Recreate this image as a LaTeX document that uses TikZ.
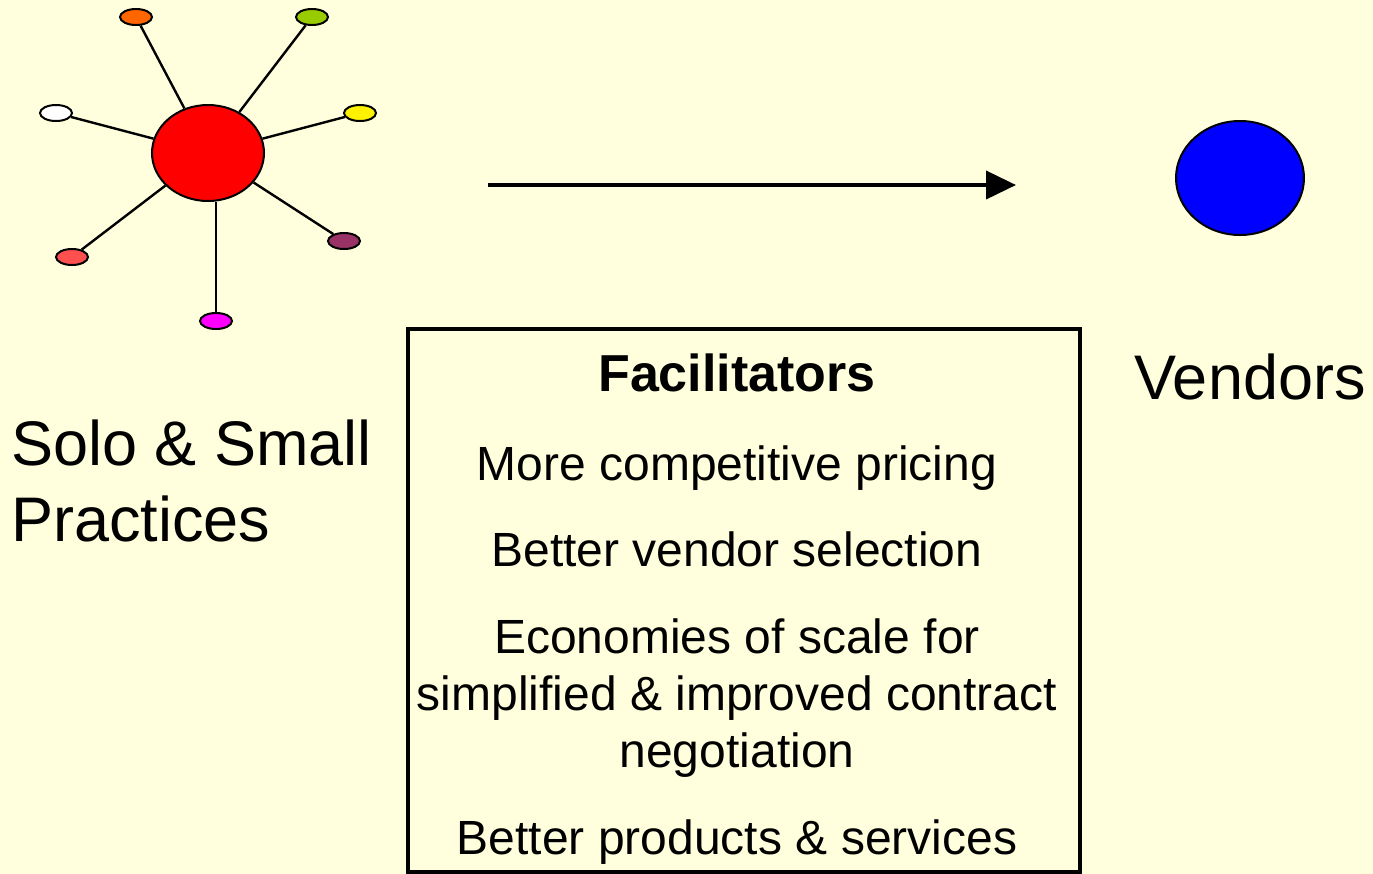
\documentclass[tikz,border=0pt]{standalone}
\usepackage{fontspec}
\setmainfont{Liberation Sans}
\usetikzlibrary{shapes.geometric,arrows.meta}
\definecolor{paper}{RGB}{255,255,221}
\definecolor{dotorange}{RGB}{255,102,0}
\definecolor{dotgreen}{RGB}{153,204,0}
\definecolor{dotsalmon}{RGB}{255,80,80}
\definecolor{dotplum}{RGB}{153,51,102}
\definecolor{dotpink}{RGB}{255,0,255}
\begin{document}
\begin{tikzpicture}[x=0.5pt,y=-0.5pt,
  dot/.style={draw, ellipse, line width=1pt, minimum width=16pt, minimum height=8pt, inner sep=0pt},
  spoke/.style={line width=1.2pt},
  item/.style={anchor=base, font=\fontsize{24}{28}\selectfont}]
\fill[paper] (0,0) rectangle (1373,874);
\useasboundingbox (0,0) rectangle (1373,874);
% the practice and its members
\node[draw, ellipse, fill=red, line width=1pt, minimum width=56pt, minimum height=48pt] (hub) at (208,153) {};
\node[dot, fill=dotorange] (d1) at (136,17) {};
\node[dot, fill=dotgreen] (d2) at (312,17) {};
\node[dot, fill=white] (d3) at (56,113) {};
\node[dot, fill=yellow] (d4) at (360,113) {};
\node[dot, fill=dotsalmon] (d5) at (72,257) {};
\node[dot, fill=dotplum] (d6) at (344,241) {};
\node[dot, fill=dotpink] (d7) at (216,321) {};
\draw[spoke] (hub) -- (d1);
\draw[spoke] (hub) -- (d2);
\draw[spoke] (hub) -- (d3);
\draw[spoke] (hub) -- (d4);
\draw[spoke] (hub) -- (d5);
\draw[spoke] (hub) -- (d6);
\draw[spoke] (hub.south -| d7) -- (d7);
\node[anchor=base west, font=\fontsize{31.5}{38}\selectfont] (solo) at (4,465) {Solo \& Small};
\node[anchor=base west, font=\fontsize{31.5}{38}\selectfont] (prac) at (4,541) {Practices};
% vendors
\node[draw, ellipse, fill=blue, line width=1pt, minimum width=64pt, minimum height=57pt] (vend) at (1240,178) {};
\node[anchor=base, font=\fontsize{31.5}{38}\selectfont] (vlabel) at (1250,399) {Vendors};
\coordinate (from) at (488,185);
\coordinate (to) at (1016,185);
\draw[line width=2pt, -{Triangle[length=15pt,width=14pt]}] (from) -- (to);
% facilitators box
\node[draw, line width=2pt, minimum width=336pt, minimum height=271.5pt, inner sep=0pt] (box) at (744,600.5) {};
\node[item, font=\fontsize{26}{30}\selectfont\bfseries] (fac) at (737,391) {Facilitators};
\node[item] (i1) at (737,480) {More competitive pricing};
\node[item] (i2) at (737,566) {Better vendor selection};
\node[item] (i3a) at (737,653) {Economies of scale for};
\node[item] (i3b) at (737,710) {simplified \& improved contract};
\node[item] (i3c) at (737,767) {negotiation};
\node[item] (i4) at (737,854) {Better products \& services};
\end{tikzpicture}
\end{document}
